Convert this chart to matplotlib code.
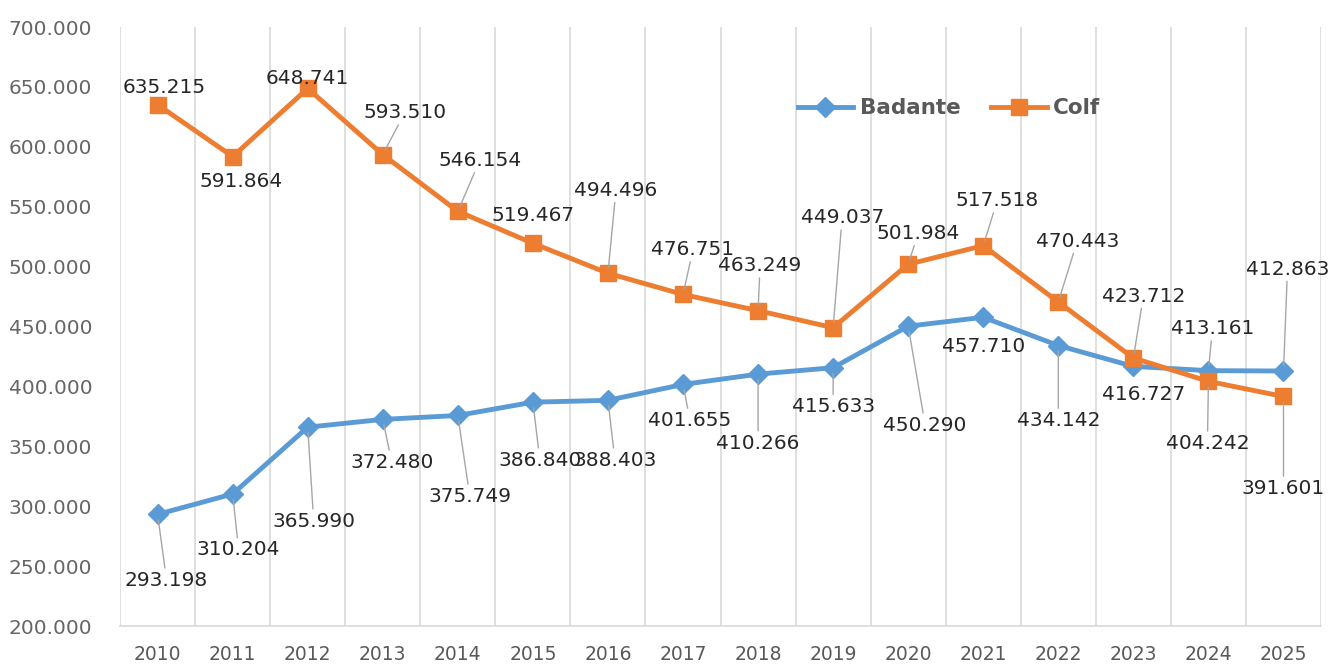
import matplotlib.pyplot as plt

# Data
years = [str(y) for y in range(2010, 2026)]
badante = [293198, 310204, 365990, 372480, 375749, 386840, 388403, 401655,
           410266, 415633, 450290, 457710, 434142, 416727, 413161, 412863]
colf = [635215, 591864, 648741, 593510, 546154, 519467, 494496, 476751,
        463249, 449037, 501984, 517518, 470443, 423712, 404242, 391601]

# label offsets in pixels (dx, dy), dy positive = up
colf_off = [(7, 17), (8, -25), (0, 10), (22, 42), (22, 51), (0, 28), (8, 83), (10, 45),
            (2, 45), (9, 110), (10, 31), (14, 45), (19, 61), (10, 62), (-1, -62), (0, -92)]
badante_off = [(9, -66), (6, -56), (6, -94), (9, -43), (12, -81), (7, -58), (7, -60), (7, -36),
               (0, -69), (0, -39), (17, -99), (0, -29), (0, -75), (10, -28), (4, 42), (4, 102)]

BLUE = '#5B9BD5'
ORANGE = '#ED7D31'
GRID = '#D9D9D9'


def fmt(v):
    # Italian thousands separator
    return f'{v:,.0f}'.replace(',', '.')


fig = plt.figure(figsize=(13.31, 6.64), dpi=100)
ax = fig.add_axes([0.0902, 0.0572, 0.9023, 0.9021])

x = list(range(len(years)))
ax.plot(x, badante, color=BLUE, lw=3.5, marker='D', ms=10, label='Badante', zorder=3)
ax.plot(x, colf, color=ORANGE, lw=3.5, marker='s', ms=12, label='Colf', zorder=3)

# data labels with leader lines
for vals, offs in ((colf, colf_off), (badante, badante_off)):
    for i, v in enumerate(vals):
        dx, dy = offs[i]
        props = None
        if (dx * dx + dy * dy) ** 0.5 > 32:
            props = dict(arrowstyle='-', color='#A6A6A6', lw=1, shrinkA=0, shrinkB=4)
        ax.annotate(fmt(v), (i, v), xytext=(dx, dy), textcoords='offset pixels',
                    ha='center', va='center', fontsize=14.5, color='#262626',
                    arrowprops=props, zorder=4)

# axes
ax.set_xlim(-0.5, len(years) - 0.5)
ax.set_ylim(200000, 700000)
ax.set_yticks(range(200000, 700001, 50000))
ax.set_yticklabels([fmt(v) for v in range(200000, 700001, 50000)])
ax.set_xticks(x)
ax.set_xticklabels(years)
ax.set_xticks([i + 0.5 for i in x[:-1]] + [-0.5, len(years) - 0.5], minor=True)
ax.grid(True, which='minor', axis='x', color=GRID, lw=1.2)
ax.tick_params(axis='y', length=0, pad=20, labelsize=14.5, labelcolor='#666666')
ax.tick_params(axis='x', which='major', length=0, pad=14, labelsize=13.5, labelcolor='#595959')
ax.tick_params(axis='x', which='minor', length=0)
for s in ('top', 'left', 'right'):
    ax.spines[s].set_visible(False)
ax.spines['bottom'].set_color(GRID)
ax.spines['bottom'].set_linewidth(1.2)

leg = ax.legend(loc='center', bbox_to_anchor=(0.713, 0.837), bbox_transform=fig.transFigure,
                ncol=2, frameon=False, handlelength=2.6, handletextpad=0.3, columnspacing=1.4,
                prop={'size': 15.5, 'weight': 'bold'})
for t in leg.get_texts():
    t.set_color('#595959')

fig.savefig('out.png', dpi=100)
